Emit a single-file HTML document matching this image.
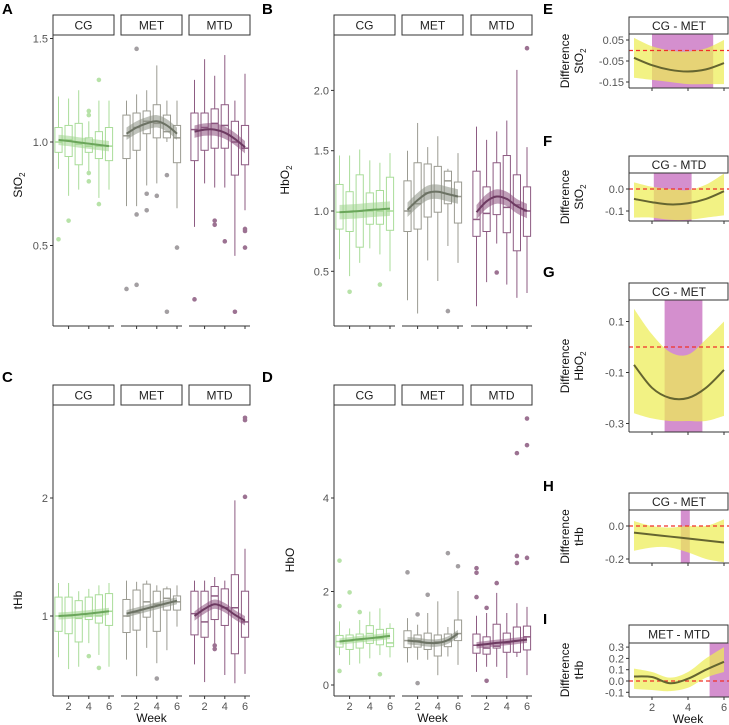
<!DOCTYPE html>
<html><head><meta charset="utf-8"><style>
body{margin:0;background:#fff}
svg{display:block;font-family:"Liberation Sans",Arial,sans-serif}
</style></head><body>
<svg id="fig" width="729" height="725" viewBox="0 0 729 725"></svg>
<script>
// ---------- data: boxplot stats [lo,q1,med,q3,hi] per week 1..6 ----------
const weeks=[1,2,3,4,5,6];
const groups=["CG","MET","MTD"];
const sto2_CG=[[.87,.95,1.0,1.07,1.22],[.74,.93,1.01,1.08,1.21],[.77,.89,.99,1.09,1.25],[.86,.95,.98,1.02,1.1],[.73,.92,.98,1.05,1.2],[.77,.91,.98,1.07,1.2]];
const sto2_MET=[[.69,.92,1.03,1.13,1.2],[.69,.96,1.07,1.14,1.23],[.79,1.04,1.1,1.15,1.25],[.8,1.02,1.09,1.18,1.37],[1.0,1.02,1.05,1.13,1.2],[.68,.9,1.02,1.08,1.2]];
const sto2_MTD=[[.59,.91,1.06,1.14,1.3],[.8,.96,1.07,1.14,1.4],[.78,.97,1.09,1.16,1.32],[.78,.97,1.08,1.18,1.42],[.45,.84,1.0,1.1,1.2],[.67,.89,.97,1.08,1.33]];
const sto2_out_CG=[[1,.53],[2,.62],[4,1.15],[4,1.13],[4,.85],[4,.81],[5,1.3],[5,.7]];
const sto2_out_MET=[[1,.29],[2,1.45],[2,.65],[2,.31],[3,.75],[3,.67],[4,.74],[5,.84],[5,.18],[6,.49]];
const sto2_out_MTD=[[1,.24],[3,.62],[3,.6],[4,.52],[5,.18],[6,.58],[6,.57],[6,.49]];
const sto2_fit_CG=[1.01,1.005,.998,.992,.986,.98];
const sto2_fit_MET=[1.04,1.07,1.09,1.1,1.08,1.04];
const sto2_fit_MTD=[1.05,1.06,1.06,1.045,1.015,.975];

const hbo2_CG=[[.6,.85,.99,1.22,1.46],[.46,.83,.99,1.16,1.46],[.57,.7,1.0,1.3,1.51],[.69,.89,1.0,1.15,1.42],[.64,.89,1.0,1.17,1.4],[.5,.84,1.0,1.28,1.48]];
const hbo2_MET=[[.26,.83,1.0,1.25,1.5],[.15,.85,1.06,1.4,1.73],[.59,.95,1.15,1.39,1.53],[.42,.99,1.16,1.37,1.62],[.71,1.06,1.25,1.33,1.35],[.57,.9,1.12,1.24,1.48]];
const hbo2_MTD=[[.21,.79,.93,1.33,1.7],[.41,.83,.98,1.2,1.59],[.73,.97,1.12,1.4,1.66],[.39,.82,1.03,1.46,1.75],[.28,.67,1.05,1.3,2.17],[.32,.79,1.0,1.2,1.53]];
const hbo2_out_CG=[[2,.33],[5,.39]];
const hbo2_out_MET=[[5,.17]];
const hbo2_out_MTD=[[3,.49],[6,2.35]];
const hbo2_fit_CG=[.99,.995,1.0,1.008,1.014,1.02];
const hbo2_fit_MET=[1.01,1.09,1.15,1.16,1.14,1.12];
const hbo2_fit_MTD=[.99,1.08,1.12,1.1,1.04,1.0];

const thb_CG=[[.65,.87,1.0,1.16,1.28],[.55,.85,1.0,1.16,1.28],[.57,.78,.98,1.13,1.21],[.77,.97,1.0,1.16,1.23],[.67,.94,1.0,1.18,1.26],[.57,.92,1.04,1.19,1.28]];
const thb_MET=[[.63,.86,1.0,1.14,1.3],[.49,.88,1.03,1.22,1.29],[.73,.99,1.12,1.27,1.3],[.6,.87,1.1,1.21,1.26],[.71,1.05,1.15,1.23,1.25],[.91,1.05,1.12,1.17,1.26]];
const thb_MTD=[[.59,.84,1.02,1.21,1.3],[.44,.82,.95,1.21,1.3],[.73,.97,1.17,1.25,1.33],[.5,.92,1.07,1.23,1.3],[.43,.68,1.07,1.35,1.98],[.51,.82,.95,1.21,1.57]];
const thb_out_CG=[[4,.66],[5,.56]];
const thb_out_MET=[[4,.47]];
const thb_out_MTD=[[3,.75],[3,.72],[6,2.66],[6,2.68],[6,2.01]];
const thb_fit_CG=[1.0,1.005,1.012,1.02,1.03,1.04];
const thb_fit_MET=[1.02,1.042,1.064,1.086,1.108,1.13];
const thb_fit_MTD=[1.0,1.06,1.1,1.07,1.01,.96];

const hbo_CG=[[.64,.81,.93,1.06,1.36],[.43,.76,.94,1.07,1.21],[.46,.79,.95,1.09,1.39],[.57,.89,1.1,1.27,1.57],[.64,.86,1.0,1.19,1.64],[.59,.82,.9,1.21,1.32]];
const hbo_MET=[[.48,.8,.95,1.16,1.43],[.54,.81,.95,1.07,1.29],[.54,.76,.9,1.11,1.54],[.21,.62,.92,1.07,1.79],[.61,.82,.95,1.09,1.24],[.43,.95,1.1,1.39,2.01]];
const hbo_MTD=[[.28,.68,.85,1.09,1.48],[.39,.66,.79,1.03,1.54],[.39,.79,.83,1.3,1.97],[.15,.7,.9,1.11,1.54],[.6,.7,.95,1.24,1.75],[.21,.75,1.03,1.26,1.67]];
const hbo_out_CG=[[1,2.66],[1,1.69],[1,.3],[2,1.98],[3,1.56],[5,.23]];
const hbo_out_MET=[[1,2.41],[2,1.51],[2,.04],[3,1.93],[5,2.82],[6,2.54]];
const hbo_out_MTD=[[1,2.5],[1,2.4],[1,1.88],[2,1.65],[2,.09],[3,2.18],[5,2.76],[5,2.61],[5,4.96],[6,2.72],[6,5.7],[6,5.13]];
const hbo_fit_CG=[.93,.955,.98,1.0,1.025,1.05];
const hbo_fit_MET=[.95,.93,.9,.9,.96,1.1];
const hbo_fit_MTD=[.85,.875,.9,.92,.945,.97];

// ---------- difference panels ----------
const diffE_fit=[-.035,-.07,-.092,-.1,-.09,-.06];
const diffE_hi=[.06,.02,0,-.005,.01,.05];
const diffE_lo=[-.13,-.14,-.15,-.16,-.16,-.16];
const diffE_sig=[2.0,5.4];
const diffF_fit=[-.045,-.06,-.07,-.065,-.045,-.01];
const diffF_hi=[.03,.01,0,-.005,.02,.07];
const diffF_lo=[-.13,-.13,-.14,-.14,-.13,-.12];
const diffF_sig=[2.1,4.2];
const diffG_fit=[-.07,-.16,-.2,-.2,-.16,-.09];
const diffG_hi=[.15,.05,-.02,-.03,.03,.1];
const diffG_lo=[-.26,-.28,-.29,-.29,-.29,-.27];
const diffG_sig=[2.7,4.8];
const diffH_fit=[-.04,-.052,-.064,-.076,-.088,-.1];
const diffH_hi=[.03,.0,-.01,.0,.0,.04];
const diffH_lo=[-.15,-.13,-.13,-.16,-.2,-.22];
const diffH_sig=[3.6,4.1];
const diffI_fit=[.04,.035,-.02,.02,.1,.17];
const diffI_hi=[.11,.08,.03,.08,.2,.3];
const diffI_lo=[-.07,-.08,-.09,-.06,.03,.08];
const diffI_sig=[5.2,6.4];

// ---------- drawing ----------
const NS="http://www.w3.org/2000/svg";
const svg=document.getElementById('fig');
function mk(tag,attrs,parent){const e=document.createElementNS(NS,tag);for(const k in attrs)e.setAttribute(k,attrs[k]);(parent||svg).appendChild(e);return e;}
function txt(x,y,s,size,anchor,parent,extra){const t=mk('text',Object.assign({x:x,y:y,'font-size':size,'text-anchor':anchor||'middle',fill:'#333'},extra||{}),parent);t.textContent=s;return t;}
// smooth path (Catmull-Rom -> bezier); cont=true continues an existing path with L
function smooth(pts,cont){
  let d=(cont?'L':'M')+pts[0][0].toFixed(2)+','+pts[0][1].toFixed(2);
  for(let i=0;i<pts.length-1;i++){
    const p0=pts[i-1]||pts[i],p1=pts[i],p2=pts[i+1],p3=pts[i+2]||p2;
    const c1x=p1[0]+(p2[0]-p0[0])/6,c1y=p1[1]+(p2[1]-p0[1])/6;
    const c2x=p2[0]-(p3[0]-p1[0])/6,c2y=p2[1]-(p3[1]-p1[1])/6;
    d+=`C${c1x.toFixed(2)},${c1y.toFixed(2)} ${c2x.toFixed(2)},${c2y.toFixed(2)} ${p2[0].toFixed(2)},${p2[1].toFixed(2)}`;
  }
  return d;
}

const col={CG:{box:'#a9dc99',pt:'#b7e2a8',line:'#6aa55a',band:'#9fd48c'},
 MET:{box:'#9b9b92',pt:'#a39fa2',line:'#6c7264',band:'#8a8f84'},
 MTD:{box:'#8d5b82',pt:'#9c7292',line:'#6d3a61',band:'#8a4f7c'}};

function letter(x,y,s){const t=txt(x,y,s,15,'start',svg,{'font-weight':'bold',fill:'#000'});

}

function boxPanel(p){
  const g=mk('g',{});
  
  
  const ys=v=>p.y0-(v-p.v0)*p.k;
  const ax=mk('line',{x1:p.fx[0],x2:p.fx[0],y1:p.top,y2:p.bot,stroke:'#333','stroke-width':1},g);
  
  
  p.ticks.forEach((tv,i)=>{const y=ys(tv);
    mk('line',{x1:p.fx[0]-3,x2:p.fx[0],y1:y,y2:y,stroke:'#333'},g);
    const t=txt(p.fx[0]-5,y+4,p.tickLabels[i],11,'end',g,{fill:'#555'});
    
    });
  const yt=txt(0,0,'',12,'middle',g,{transform:`translate(${p.ylx},${p.yly}) rotate(-90)`,fill:'#111'});
  
  
  yt.innerHTML=p.ylab;
  groups.forEach((gr,gi)=>{
    const x0=p.fx[gi],w=p.fw;
    const xs=wk=>x0+5.5+(wk-1)*10.1;
    const c=col[gr];
    const st=mk('rect',{x:x0,y:p.stripY,width:w,height:p.stripH,fill:'#fff',stroke:'#333','stroke-width':1},g);
    
    
    txt(x0+w/2,p.stripY+p.stripH/2+4.5,gr,12,'middle',g,{fill:'#222'});
    mk('line',{x1:x0,x2:x0+w,y1:p.bot,y2:p.bot,stroke:'#333'},g);
    [2,4,6].forEach(wk=>{mk('line',{x1:xs(wk),x2:xs(wk),y1:p.bot,y2:p.bot+3,stroke:'#333'},g);
      if(p.xlabels){const t=txt(xs(wk),p.bot+14,String(wk),11,'middle',g,{fill:'#555'});
        
        }});
    p.data[gi].forEach((s,i)=>{const x=xs(weeks[i]);
      const bg=mk('g',{},g);
      
      
      mk('line',{x1:x,x2:x,y1:ys(s[0]),y2:ys(s[1]),stroke:c.box,'stroke-width':1},bg);
      mk('line',{x1:x,x2:x,y1:ys(s[3]),y2:ys(s[4]),stroke:c.box,'stroke-width':1},bg);
      mk('rect',{x:x-3.6,y:ys(s[3]),width:7.2,height:Math.max(0.5,ys(s[1])-ys(s[3])),fill:'none',stroke:c.box,'stroke-width':1},bg);
      mk('line',{x1:x-3.6,x2:x+3.6,y1:ys(s[2]),y2:ys(s[2]),stroke:c.box,'stroke-width':1.5},bg);
    });
    p.out[gi].forEach(o=>{const d=mk('circle',{cx:xs(o[0]),cy:ys(o[1]),r:2.3,fill:c.pt},g);
      
      });
    const f=p.fit[gi];
    const up=f.map((v,i)=>[xs(weeks[i]),ys(v+p.bw[gi])]);
    const dn=f.map((v,i)=>[xs(weeks[i]),ys(v-p.bw[gi])]).reverse();
    const band=mk('path',{d:smooth(up)+smooth(dn,true)+'Z',fill:c.band,opacity:.55},g);
    
    
    const ln=mk('path',{d:smooth(f.map((v,i)=>[xs(weeks[i]),ys(v)])),fill:'none',stroke:c.line,'stroke-width':2},g);
    
    
  });
  if(p.xlabels){const t=txt(p.fx[1]+p.fw/2,p.bot+26,'Week',12,'middle',g,{fill:'#111'});
    
    }
}

letter(2,14,'A');letter(262,14,'B');letter(2,382,'C');letter(262,382,'D');
boxPanel({name:'panel-a-sto2',fx:[53,121,189],fw:61,top:35,bot:326,stripY:15,stripH:20,y0:142,v0:1,k:207,
  ticks:[.5,1,1.5],tickLabels:['0.5','1.0','1.5'],ylab:'StO<tspan font-size="8" dy="3">2</tspan>',ylx:22,yly:185,
  data:[sto2_CG,sto2_MET,sto2_MTD],out:[sto2_out_CG,sto2_out_MET,sto2_out_MTD],fit:[sto2_fit_CG,sto2_fit_MET,sto2_fit_MTD],bw:[.025,.03,.03],xlabels:false});
boxPanel({name:'panel-b-hbo2',fx:[334,402,471],fw:61,top:35,bot:326,stripY:15,stripH:20,y0:211,v0:1,k:120.6,
  ticks:[.5,1,1.5,2],tickLabels:['0.5','1.0','1.5','2.0'],ylab:'HbO<tspan font-size="8" dy="3">2</tspan>',ylx:289,yly:180,
  data:[hbo2_CG,hbo2_MET,hbo2_MTD],out:[hbo2_out_CG,hbo2_out_MET,hbo2_out_MTD],fit:[hbo2_fit_CG,hbo2_fit_MET,hbo2_fit_MTD],bw:[.06,.06,.06],xlabels:false});
boxPanel({name:'panel-c-thb',fx:[53,121,189],fw:61,top:405,bot:696,stripY:385,stripH:20,y0:616,v0:1,k:118,
  ticks:[1,2],tickLabels:['1','2'],ylab:'tHb',ylx:22,yly:600,
  data:[thb_CG,thb_MET,thb_MTD],out:[thb_out_CG,thb_out_MET,thb_out_MTD],fit:[thb_fit_CG,thb_fit_MET,thb_fit_MTD],bw:[.03,.03,.04],xlabels:true});
boxPanel({name:'panel-d-hbo',fx:[334,402,471],fw:61,top:405,bot:696,stripY:385,stripH:20,y0:685,v0:0,k:46.75,
  ticks:[0,2,4],tickLabels:['0','2','4'],ylab:'HbO',ylx:294,yly:560,
  data:[hbo_CG,hbo_MET,hbo_MTD],out:[hbo_out_CG,hbo_out_MET,hbo_out_MTD],fit:[hbo_fit_CG,hbo_fit_MET,hbo_fit_MTD],bw:[.07,.08,.07],xlabels:true});

const xr=w=>634+(w-1)*18;
function diffPanel(p){
  const g=mk('g',{});
  
  
  const ys=v=>p.y0-v*p.k;
  const L=629,R=729;
  letter(543,p.letterY,p.letter);
  const cp=mk('clipPath',{id:'clip-'+p.letter},g);
  mk('rect',{x:L,y:p.top,width:R-L,height:p.bot-p.top},cp);
  const inner=mk('g',{'clip-path':`url(#clip-${p.letter})`},g);
  const sig=mk('rect',{x:xr(p.sig[0]),y:p.top,width:Math.min(R,xr(p.sig[1]))-xr(p.sig[0]),height:p.bot-p.top,fill:'#d48fce'},inner);
  
  
  const up=p.hi.map((v,i)=>[xr(weeks[i]),ys(v)]);
  const dn=p.lo.map((v,i)=>[xr(weeks[i]),ys(v)]).reverse();
  const band=mk('path',{d:smooth(up)+smooth(dn,true)+'Z',fill:'#eded55',opacity:.72},inner);
  
  
  const z=mk('line',{x1:L,x2:R,y1:ys(0),y2:ys(0),stroke:'#f0302a','stroke-width':1.2,'stroke-dasharray':'4,3'},inner);
  
  
  const ln=mk('path',{d:smooth(p.fit.map((v,i)=>[xr(weeks[i]),ys(v)])),fill:'none',stroke:'#656530','stroke-width':2},inner);
  
  
  const st=mk('rect',{x:L,y:p.stripY,width:R-L-1,height:p.top-p.stripY,fill:'#fff',stroke:'#333'},g);
  
  
  txt((L+R)/2,p.stripY+(p.top-p.stripY)/2+4.5,p.title,12,'middle',g,{fill:'#222'});
  mk('line',{x1:L,x2:L,y1:p.top,y2:p.bot,stroke:'#333'},g);
  mk('line',{x1:L,x2:R,y1:p.bot,y2:p.bot,stroke:'#333'},g);
  p.ticks.forEach((tv,i)=>{const y=ys(tv);mk('line',{x1:L-3,x2:L,y1:y,y2:y,stroke:'#333'},g);
    const t=txt(L-5,y+4,p.tickLabels[i],11,'end',g,{fill:'#555'});
    
    });
  [2,4,6].forEach(wk=>{mk('line',{x1:xr(wk),x2:xr(wk),y1:p.bot,y2:p.bot+3,stroke:'#333'},g);
    if(p.xlabels){txt(xr(wk),p.bot+14,String(wk),11,'middle',g,{fill:'#555'});}});
  if(p.xlabels){const t=txt(688,p.bot+26,'Week',12,'middle',g,{fill:'#111'});
    
    }
  const cy=(p.top+p.bot)/2;
  const a=txt(0,0,'Difference',12,'middle',g,{transform:`translate(569,${cy}) rotate(-90)`,fill:'#111'});
  
  
  const b=txt(0,0,'',12,'middle',g,{transform:`translate(583,${cy}) rotate(-90)`,fill:'#111'});
  b.innerHTML=p.ylab;
}
const sub2=s=>s+'<tspan font-size="8" dy="3">2</tspan>';
diffPanel({name:'panel-e',letter:'E',letterY:14,title:'CG - MET',stripY:17,top:34,bot:88,y0:50.5,k:210,ticks:[.05,-.05,-.15],tickLabels:['0.05','-0.05','-0.15'],ylab:sub2('StO'),fit:diffE_fit,hi:diffE_hi,lo:diffE_lo,sig:diffE_sig});
diffPanel({name:'panel-f',letter:'F',letterY:146,title:'CG - MTD',stripY:156,top:173,bot:221,y0:189,k:220,ticks:[0,-.1],tickLabels:['0.0','-0.1'],ylab:sub2('StO'),fit:diffF_fit,hi:diffF_hi,lo:diffF_lo,sig:diffF_sig});
diffPanel({name:'panel-g',letter:'G',letterY:277,title:'CG - MET',stripY:283,top:300,bot:432,y0:347,k:255,ticks:[.1,-.1,-.3],tickLabels:['0.1','-0.1','-0.3'],ylab:sub2('HbO'),fit:diffG_fit,hi:diffG_hi,lo:diffG_lo,sig:diffG_sig});
diffPanel({name:'panel-h',letter:'H',letterY:491,title:'CG - MET',stripY:493,top:510,bot:563,y0:526,k:165,ticks:[0,-.2],tickLabels:['0.0','-0.2'],ylab:'tHb',fit:diffH_fit,hi:diffH_hi,lo:diffH_lo,sig:diffH_sig});
diffPanel({name:'panel-i',letter:'I',letterY:624,title:'MET - MTD',stripY:625,top:643,bot:697,y0:681,k:113,ticks:[.3,.2,.1,0,-.1],tickLabels:['0.3','0.2','0.1','0.0','-0.1'],ylab:'tHb',fit:diffI_fit,hi:diffI_hi,lo:diffI_lo,sig:diffI_sig,xlabels:true});
</script>
</body></html>
